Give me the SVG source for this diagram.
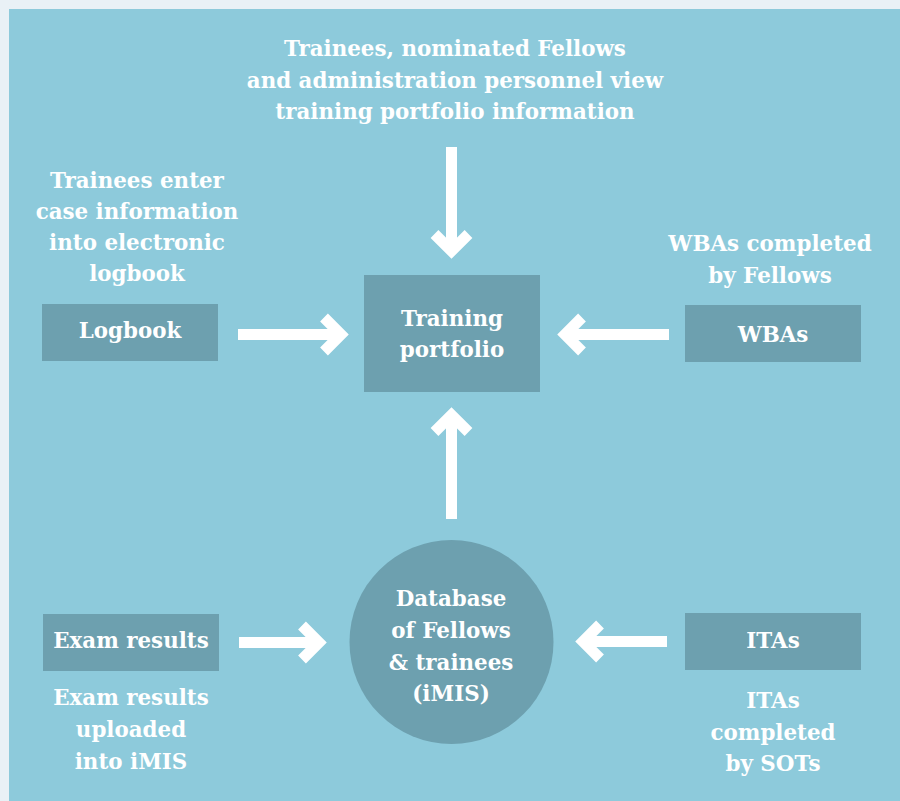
<svg xmlns="http://www.w3.org/2000/svg" width="900" height="801" viewBox="0 0 900 801">
<style>
.bg{fill:#8DCADB}
.box{fill:#6DA0AF}
.t{font-family:"DejaVu Serif","Liberation Serif",serif;font-size:21.4px;fill:#FFFFFF;text-anchor:middle;font-weight:bold}
.arr{fill:none;stroke:#FFFFFF;stroke-width:11;stroke-linecap:butt;stroke-linejoin:miter;stroke-miterlimit:4}
</style>
<rect x="0" y="0" width="900" height="801" fill="#E9F1F6"/>
<rect class="bg" x="9" y="9" width="891" height="792"/>
<g id="connectors">
<path class="arr" d="M451.5,147 V251 M434.5,234 L451.5,251 L468.5,234"/>
<path class="arr" d="M451.5,519 V415 M434.5,432 L451.5,415 L468.5,432"/>
<path class="arr" d="M238,334.5 H341 M324,317.5 L341,334.5 L324,351.5"/>
<path class="arr" d="M669,334.5 H565 M582,317.5 L565,334.5 L582,351.5"/>
<path class="arr" d="M239,642.5 H319 M302,625.5 L319,642.5 L302,659.5"/>
<path class="arr" d="M667,641.5 H583 M600,624.5 L583,641.5 L600,658.5"/>
</g>
<g id="top-note">
<text class="t" x="455" y="56">Trainees, nominated Fellows</text>
<text class="t" x="455" y="88">and administration personnel view</text>
<text class="t" x="455" y="119">training portfolio information</text>
</g>
<g id="logbook-note">
<text class="t" x="137" y="188">Trainees enter</text>
<text class="t" x="137" y="219">case information</text>
<text class="t" x="137" y="250">into electronic</text>
<text class="t" x="137" y="281">logbook</text>
</g>
<g id="logbook">
<rect class="box" x="42" y="304" width="176" height="57"/>
<text class="t" x="130" y="338">Logbook</text>
</g>
<g id="training-portfolio">
<rect class="box" x="364" y="275" width="176" height="117"/>
<text class="t" x="452" y="326">Training</text>
<text class="t" x="452" y="357">portfolio</text>
</g>
<g id="wbas-note">
<text class="t" x="770" y="251">WBAs completed</text>
<text class="t" x="770" y="283">by Fellows</text>
</g>
<g id="wbas">
<rect class="box" x="685" y="305" width="176" height="57"/>
<text class="t" x="773" y="342">WBAs</text>
</g>
<g id="exam-results">
<rect class="box" x="43" y="614" width="176" height="57"/>
<text class="t" x="131" y="648">Exam results</text>
</g>
<g id="exam-note">
<text class="t" x="131" y="705">Exam results</text>
<text class="t" x="131" y="737">uploaded</text>
<text class="t" x="131" y="769">into iMIS</text>
</g>
<g id="database">
<circle class="box" cx="451.5" cy="642" r="102"/>
<text class="t" x="451" y="606">Database</text>
<text class="t" x="451" y="638">of Fellows</text>
<text class="t" x="451" y="670">&amp; trainees</text>
<text class="t" x="451" y="701">(iMIS)</text>
</g>
<g id="itas">
<rect class="box" x="685" y="613" width="176" height="57"/>
<text class="t" x="773" y="648">ITAs</text>
</g>
<g id="itas-note">
<text class="t" x="773" y="708">ITAs</text>
<text class="t" x="773" y="740">completed</text>
<text class="t" x="773" y="771">by SOTs</text>
</g>
</svg>
